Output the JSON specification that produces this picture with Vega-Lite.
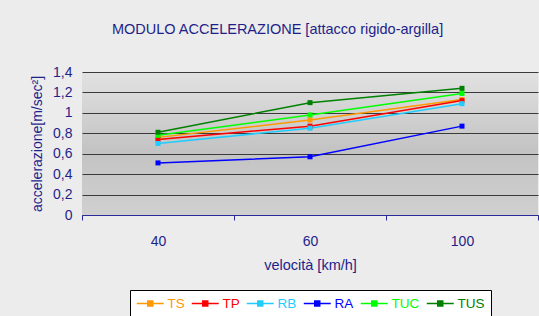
{
  "$schema": "https://vega.github.io/schema/vega-lite/v6.json",
  "width": 456,
  "height": 143,
  "autosize": {"type": "none"},
  "padding": {"left": 82, "top": 72, "right": 1, "bottom": 101},
  "background": "#ececec",
  "title": {
    "text": "MODULO ACCELERAZIONE [attacco rigido-argilla]",
    "anchor": "start",
    "frame": "group",
    "dx": 30,
    "offset": 28,
    "font": "Liberation Sans",
    "fontSize": 14.5,
    "fontWeight": "normal",
    "color": "#1f1f8a"
  },
  "data": {
    "values": [
      {"v": 40, "s": "TS", "a": 0.76},
      {"v": 60, "s": "TS", "a": 0.93},
      {"v": 100, "s": "TS", "a": 1.13},
      {"v": 40, "s": "TP", "a": 0.74},
      {"v": 60, "s": "TP", "a": 0.87},
      {"v": 100, "s": "TP", "a": 1.12},
      {"v": 40, "s": "RB", "a": 0.70},
      {"v": 60, "s": "RB", "a": 0.85},
      {"v": 100, "s": "RB", "a": 1.09},
      {"v": 40, "s": "RA", "a": 0.51},
      {"v": 60, "s": "RA", "a": 0.57},
      {"v": 100, "s": "RA", "a": 0.87},
      {"v": 40, "s": "TUC", "a": 0.78},
      {"v": 60, "s": "TUC", "a": 0.98},
      {"v": 100, "s": "TUC", "a": 1.19},
      {"v": 40, "s": "TUS", "a": 0.81},
      {"v": 60, "s": "TUS", "a": 1.10},
      {"v": 100, "s": "TUS", "a": 1.24}
    ]
  },
  "encoding": {
    "x": {
      "field": "v",
      "type": "ordinal",
      "scale": {"type": "band", "paddingInner": 0, "paddingOuter": 0},
      "axis": {
        "title": "velocità [km/h]",
        "labelAngle": 0,
        "tickBand": "extent",
        "grid": false,
        "domainColor": "#2a2a9a",
        "tickColor": "#2a2a9a",
        "tickSize": 5,
        "labelPadding": 14,
        "titlePadding": 10,
        "labelFont": "Liberation Sans",
        "labelFontSize": 14,
        "labelColor": "#1f1f8a",
        "titleFont": "Liberation Sans",
        "titleFontSize": 14.5,
        "titleFontWeight": "normal",
        "titleColor": "#1f1f8a"
      }
    },
    "y": {
      "field": "a",
      "type": "quantitative",
      "scale": {"domain": [0, 1.4], "nice": false, "zero": true},
      "axis": {
        "title": "accelerazione[m/sec²]",
        "values": [0, 0.2, 0.4, 0.6, 0.8, 1, 1.2, 1.4],
        "labelExpr": "replace(format(datum.value, '~g'), '.', ',')",
        "domain": false,
        "ticks": false,
        "grid": true,
        "gridColor": "#3a3a3a",
        "gridWidth": 1,
        "labelPadding": 10,
        "titlePadding": 8,
        "labelFont": "Liberation Sans",
        "labelFontSize": 14,
        "labelColor": "#1f1f8a",
        "titleFont": "Liberation Sans",
        "titleFontSize": 14,
        "titleFontWeight": "normal",
        "titleColor": "#1f1f8a"
      }
    },
    "color": {
      "field": "s",
      "type": "nominal",
      "sort": ["TS", "TP", "RB", "RA", "TUC", "TUS"],
      "scale": {
        "domain": ["TS", "TP", "RB", "RA", "TUC", "TUS"],
        "range": ["#ff9900", "#ff0000", "#22ccff", "#0000ff", "#00ff00", "#008000"]
      },
      "legend": {
        "title": null,
        "orient": "none",
        "legendX": 48,
        "legendY": 218,
        "direction": "horizontal",
        "columns": 6,
        "strokeColor": "#000000",
        "fillColor": "#ffffff",
        "padding": 6,
        "columnPadding": 3,
        "symbolType": "M-1,0H3M0.63,-0.37H1.37V0.37H0.63Z",
        "symbolSize": 182,
        "symbolStrokeWidth": 1.5,
        "symbolOpacity": 1,
        "labelOffset": 16.5,
        "labelFont": "Liberation Sans",
        "labelFontSize": 13.5,
        "encode": {
          "labels": {"update": {"fill": {"scale": "color", "field": "value"}}},
          "symbols": {"update": {"fill": {"scale": "color", "field": "value"}, "stroke": {"scale": "color", "field": "value"}, "opacity": {"value": 1}}}
        }
      }
    }
  },
  "layer": [
    {"mark": {"type": "line", "strokeWidth": 1.5}},
    {"mark": {"type": "point", "shape": "square", "filled": true, "size": 25, "opacity": 1}}
  ],
  "config": {
    "view": {
      "stroke": null,
      "fill": {
        "gradient": "linear",
        "x1": 0, "y1": 0, "x2": 0, "y2": 1,
        "stops": [
          {"offset": 0, "color": "#e2e2e2"},
          {"offset": 0.55, "color": "#c3c3c3"},
          {"offset": 1, "color": "#d0d0d0"}
        ]
      }
    }
  }
}
